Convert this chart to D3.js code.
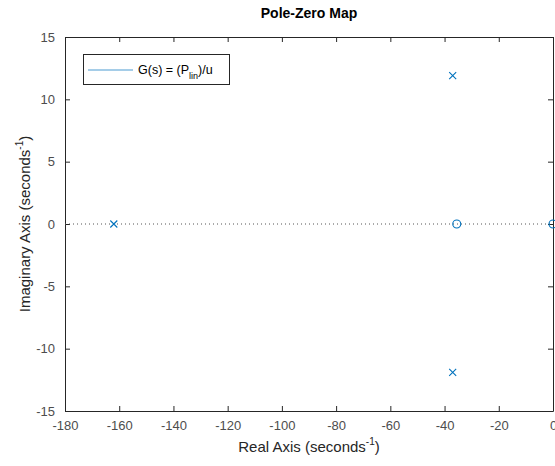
<!DOCTYPE html>
<html>
<head>
<meta charset="utf-8">
<script src="https://cdn.jsdelivr.net/npm/d3@7"></script>
<style>
  body { margin: 0; background: #fff; }
  text { font-family: "Liberation Sans", Arial, sans-serif; }
</style>
</head>
<body>
<svg id="pz" width="555" height="466"></svg>
<script>
// poles (x) and zeros (o), in seconds^-1
var poleRe = [-162, -37, -37];
var poleIm = [0, 11.9, -11.9];
var zeroRe = [-35.5, 0];
var zeroIm = [0, 0];
var xTicks = [-180, -160, -140, -120, -100, -80, -60, -40, -20, 0];
var yTicks = [-15, -10, -5, 0, 5, 10, 15];

var svg = d3.select("#pz");
var mLeft = 65, mRight = 553, mTop = 37, mBottom = 411;
var blue = "#0072BD";

var x = d3.scaleLinear().domain([-180, 0]).range([mLeft, mRight]);
var y = d3.scaleLinear().domain([-15, 15]).range([mBottom, mTop]);
var fmt = function(d) { return String(d); };  // plain hyphen minus, like MATLAB

// axes (ticks inward)
function styleAxis(g) {
    g.select(".domain").attr("stroke", "#262626");
    g.selectAll(".tick line").attr("stroke", "#262626");
    g.selectAll(".tick text").attr("fill", "#4d4d4d").attr("font-size", "13px")
        .attr("font-family", "Liberation Sans, Arial, sans-serif");
}
svg.append("g").attr("transform", "translate(0," + mBottom + ")")
    .call(d3.axisBottom(x).tickValues(xTicks).tickFormat(fmt).tickSize(-5).tickPadding(10).tickSizeOuter(0))
    .call(styleAxis);
svg.append("g").attr("transform", "translate(" + mLeft + ",0)")
    .call(d3.axisLeft(y).tickValues(yTicks).tickFormat(fmt).tickSize(-5).tickPadding(10).tickSizeOuter(0))
    .call(styleAxis);
svg.append("g").attr("transform", "translate(0," + mTop + ")")
    .call(d3.axisTop(x).tickValues(xTicks).tickSize(-5).tickFormat("").tickSizeOuter(0))
    .call(styleAxis);
svg.append("g").attr("transform", "translate(" + mRight + ",0)")
    .call(d3.axisRight(y).tickValues(yTicks).tickSize(-5).tickFormat("").tickSizeOuter(0))
    .call(styleAxis);

// dotted zero line
svg.append("line")
    .attr("x1", mLeft).attr("x2", mRight)
    .attr("y1", y(0)).attr("y2", y(0))
    .attr("stroke", "#555").attr("stroke-width", 1)
    .attr("stroke-dasharray", "1,3");

// poles
var s = 3.5;
poleRe.forEach(function(re, i) {
    var cx = x(re), cy = y(poleIm[i]);
    svg.append("path")
        .attr("d", "M" + (cx - s) + "," + (cy - s) + "L" + (cx + s) + "," + (cy + s) +
                   "M" + (cx - s) + "," + (cy + s) + "L" + (cx + s) + "," + (cy - s))
        .attr("stroke", blue).attr("stroke-width", 1.1).attr("fill", "none");
});

// zeros
zeroRe.forEach(function(re, i) {
    svg.append("circle")
        .attr("cx", x(re)).attr("cy", y(zeroIm[i])).attr("r", 4)
        .attr("stroke", blue).attr("stroke-width", 1.1).attr("fill", "none");
});

// legend
var lg = svg.append("g");
lg.append("rect").attr("x", 83.5).attr("y", 54.5).attr("width", 146).attr("height", 30)
    .attr("fill", "#fff").attr("stroke", "#262626");
lg.append("line").attr("x1", 88).attr("x2", 133).attr("y1", 70).attr("y2", 70)
    .attr("stroke", "#4d9bd1").attr("stroke-width", 1.2);
var lt = lg.append("text").attr("x", 138).attr("y", 74).attr("font-size", "12.5px").attr("fill", "#000");
lt.append("tspan").text("G(s) = (P");
lt.append("tspan").text("lin").attr("font-size", "9px").attr("dy", 5);
lt.append("tspan").text(")/u").attr("dy", -5);

// title
svg.append("text").attr("x", (mLeft + mRight) / 2).attr("y", 18)
    .attr("text-anchor", "middle").attr("font-size", "14px").attr("font-weight", "bold")
    .attr("fill", "#000").text("Pole-Zero Map");

// x label
var xl = svg.append("text").attr("x", (mLeft + mRight) / 2).attr("y", 452)
    .attr("text-anchor", "middle").attr("font-size", "15px").attr("fill", "#262626");
xl.append("tspan").text("Real Axis (seconds");
xl.append("tspan").text("-1").attr("font-size", "10px").attr("dy", -7);
xl.append("tspan").text(")").attr("dy", 7);

// y label
var yl = svg.append("text")
    .attr("transform", "translate(30," + ((mTop + mBottom) / 2) + ") rotate(-90)")
    .attr("text-anchor", "middle").attr("font-size", "15px").attr("fill", "#262626");
yl.append("tspan").text("Imaginary Axis (seconds");
yl.append("tspan").text("-1").attr("font-size", "10px").attr("dy", -7);
yl.append("tspan").text(")").attr("dy", 7);
</script>
</body>
</html>
